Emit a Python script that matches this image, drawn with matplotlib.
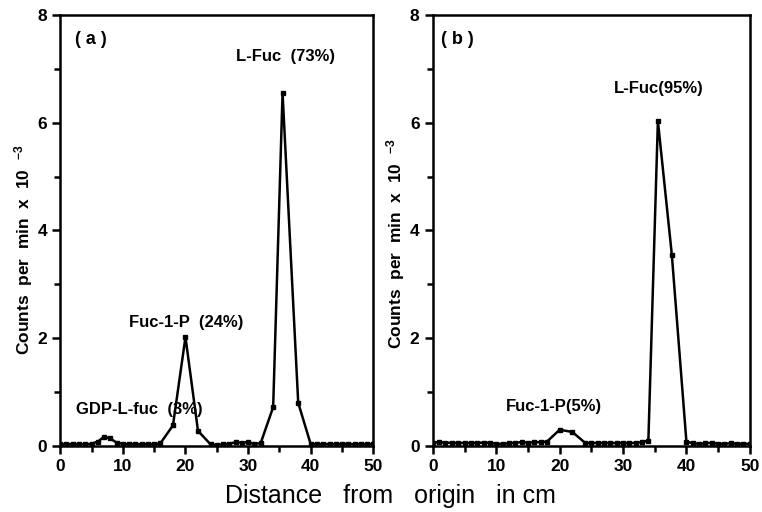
import numpy as np
import matplotlib
matplotlib.use("Agg")
import matplotlib.pyplot as plt
from matplotlib.ticker import MultipleLocator

plt.rcParams['font.family'] = ['Liberation Sans', 'DejaVu Sans']
plt.rcParams['mathtext.default'] = 'regular'

# panel (a): distance (cm) vs counts per min x 10^-3
xa = [0, 1, 2, 3, 4, 5, 6, 7, 8, 9, 10, 11, 12, 13, 14, 15, 16, 18, 20, 22,
      24, 25, 26, 27, 28, 29, 30, 31, 32, 34, 35.5, 38, 40, 41, 42, 43, 44,
      45, 46, 47, 48, 49, 50]
ya = [0.03, 0.03, 0.04, 0.03, 0.03, 0.04, 0.08, 0.17, 0.14, 0.06, 0.04, 0.03,
      0.04, 0.03, 0.04, 0.03, 0.05, 0.38, 2.02, 0.28,
      0.03, 0.02, 0.03, 0.04, 0.07, 0.06, 0.07, 0.04, 0.05, 0.72, 6.55, 0.80,
      0.03, 0.04, 0.03, 0.04, 0.03, 0.04, 0.04, 0.03, 0.04, 0.03, 0.04]

# panel (b)
xb = [0, 1, 2, 3, 4, 5, 6, 7, 8, 9, 10, 11, 12, 13, 14, 15, 16, 17, 18, 20,
      22, 24, 25, 26, 27, 28, 29, 30, 31, 32, 33, 34, 35.5, 37.7, 40, 41, 42,
      43, 44, 45, 46, 47, 48, 49, 50]
yb = [0.06, 0.07, 0.06, 0.06, 0.05, 0.06, 0.05, 0.06, 0.06, 0.06, 0.04, 0.04,
      0.05, 0.06, 0.07, 0.06, 0.07, 0.07, 0.08, 0.30,
      0.26, 0.06, 0.05, 0.06, 0.05, 0.06, 0.05, 0.06, 0.05, 0.06, 0.07, 0.10,
      6.03, 3.55, 0.08, 0.05, 0.04, 0.05, 0.06, 0.04, 0.04, 0.05, 0.04, 0.04, 0.04]

fig = plt.figure(figsize=(7.62, 5.12), dpi=100)
axa = fig.add_axes([0.079, 0.129, 0.411, 0.842])
axb = fig.add_axes([0.568, 0.129, 0.416, 0.842])

ylab = "Counts  per  min  x  10  $^{-3}$"

for ax, x, y, ly in [(axa, xa, ya, 0.455), (axb, xb, yb, 0.47)]:
    ax.plot(x, y, color='black', lw=1.8, marker='s', ms=3.5)
    ax.set_xlim(0, 50)
    ax.set_ylim(0, 8)
    ax.xaxis.set_major_locator(MultipleLocator(10))
    ax.xaxis.set_minor_locator(MultipleLocator(5))
    ax.yaxis.set_major_locator(MultipleLocator(2))
    ax.yaxis.set_minor_locator(MultipleLocator(1))
    ax.tick_params(which='both', direction='out', width=1.8, labelsize=12.5)
    ax.tick_params(which='major', length=6)
    ax.tick_params(which='minor', length=4)
    for lbl in ax.get_xticklabels() + ax.get_yticklabels():
        lbl.set_fontweight('bold')
    for sp in ax.spines.values():
        sp.set_linewidth(1.8)
    ax.set_ylabel(ylab, fontsize=12.5, fontweight='bold')
    ax.yaxis.set_label_coords(-0.08, ly)

axa.text(2.3, 7.45, "( a )", fontsize=13, fontweight='bold')
axa.text(28, 7.15, "L-Fuc  (73%)", fontsize=12, fontweight='bold')
axa.text(11, 2.2, "Fuc-1-P  (24%)", fontsize=12, fontweight='bold')
axa.text(2.5, 0.6, "GDP-L-fuc  (3%)", fontsize=12, fontweight='bold')

axb.text(1.3, 7.45, "( b )", fontsize=13, fontweight='bold')
axb.text(28.5, 6.55, "L-Fuc(95%)", fontsize=12, fontweight='bold')
axb.text(11.5, 0.65, "Fuc-1-P(5%)", fontsize=12, fontweight='bold')

fig.text(0.512, 0.018, "Distance   from   origin   in cm", fontsize=18, ha='center')

fig.savefig("out.png", dpi=100)
